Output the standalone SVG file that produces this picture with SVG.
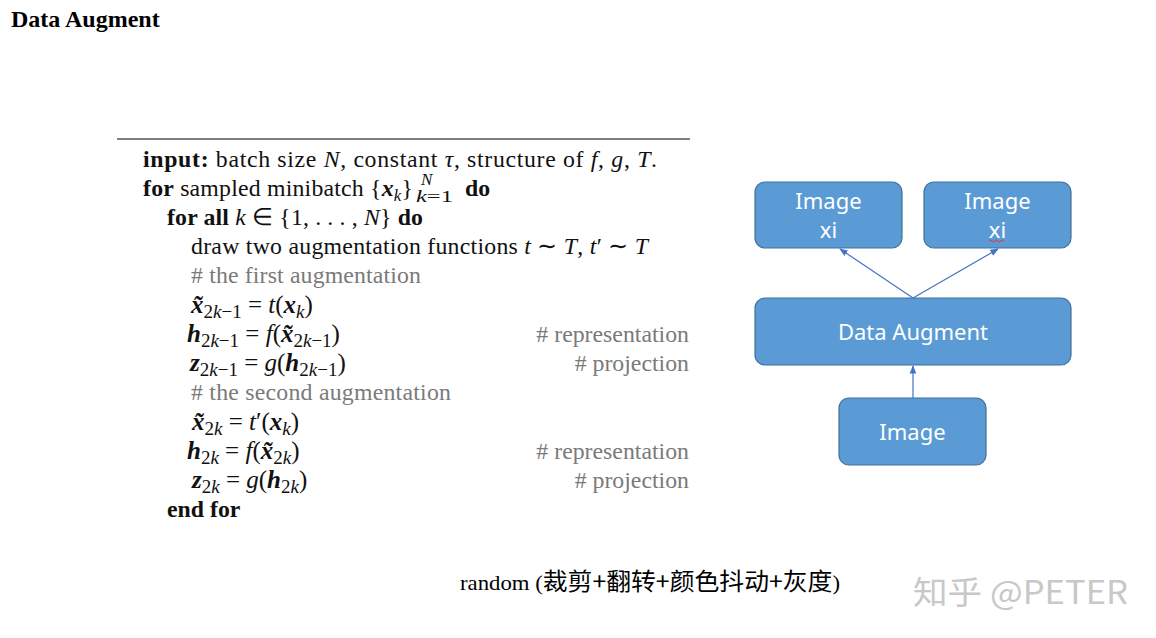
<svg xmlns="http://www.w3.org/2000/svg" width="1156" height="638" viewBox="0 0 1156 638">
<defs>
<style>
.alg{font-family:"Liberation Serif","Times New Roman",serif;font-size:23.8px;fill:#111}
.b{font-weight:bold}
.i{font-style:italic}
.bi{font-weight:bold;font-style:italic}
.s{font-size:17px}
.mt{font-size:25px}
.m{font-size:19px}
.c{fill:#7a7a7a}
.box{fill:#5b9bd5;stroke:#41719c;stroke-width:1.2}
.lbl{font-family:"Noto Sans","Noto Sans CJK SC",sans-serif;font-size:22px;fill:#fff;text-anchor:middle}
.con{stroke:#4472c4;stroke-width:1.2;fill:none}
</style>
<marker id="ah" viewBox="0 0 10 10" refX="9" refY="5" markerWidth="7" markerHeight="7" orient="auto">
<path d="M0,1 L10,5 L0,9 z" fill="#4472c4"/>
</marker>
</defs>
<rect width="1156" height="638" fill="#fff"/>
<text x="11" y="27" font-family="Liberation Serif, serif" font-size="24" font-weight="bold" fill="#000">Data Augment</text>

<g id="algorithm" class="alg">
<line x1="117" y1="139" x2="690" y2="139" stroke="#555" stroke-width="1.3"/>
<text x="143" y="167" textLength="514" lengthAdjust="spacing"><tspan class="b">input:</tspan> batch size <tspan class="i">N</tspan>, constant <tspan class="i">τ</tspan>, structure of <tspan class="i">f</tspan>, <tspan class="i">g</tspan>, <tspan class="i">T</tspan>.</text>
<text x="143" y="196" textLength="270" lengthAdjust="spacing"><tspan class="b">for</tspan> sampled minibatch {<tspan class="bi">x</tspan><tspan class="s i" dy="5">k</tspan><tspan dy="-5">}</tspan></text>
<text x="421" y="185" class="s i">N</text>
<text x="416" y="202" class="s" textLength="37" lengthAdjust="spacingAndGlyphs"><tspan class="i">k</tspan>=1</text>
<text x="465" y="196" class="b">do</text>
<text x="167" y="225" textLength="256" lengthAdjust="spacing"><tspan class="b">for all</tspan> <tspan class="i">k</tspan> ∈ {1, . . . , <tspan class="i">N</tspan>} <tspan class="b">do</tspan></text>
<text x="191" y="254" textLength="457" lengthAdjust="spacing">draw two augmentation functions <tspan class="i">t</tspan> ∼ <tspan class="i">T</tspan>, <tspan class="i">t</tspan>′ ∼ <tspan class="i">T</tspan></text>
<text x="191" y="283" class="c" textLength="230" lengthAdjust="spacing"># the first augmentation</text>
<text y="313" class="mt"><tspan x="191" class="bi">x̃</tspan><tspan dy="5" class="m">2<tspan class="i">k</tspan>−1</tspan><tspan dy="-5"> = </tspan><tspan class="i">t</tspan>(<tspan class="bi">x</tspan><tspan dy="5" class="m i">k</tspan><tspan dy="-5">)</tspan></text>
<text y="342" class="mt"><tspan x="187" class="bi">h</tspan><tspan dy="5" class="m">2<tspan class="i">k</tspan>−1</tspan><tspan dy="-5"> = </tspan><tspan class="i">f</tspan>(<tspan class="bi">x̃</tspan><tspan dy="5" class="m">2<tspan class="i">k</tspan>−1</tspan><tspan dy="-5">)</tspan></text>
<text x="689" y="342" class="c" text-anchor="end"># representation</text>
<text y="371" class="mt"><tspan x="190" class="bi">z</tspan><tspan dy="5" class="m">2<tspan class="i">k</tspan>−1</tspan><tspan dy="-5"> = </tspan><tspan class="i">g</tspan>(<tspan class="bi">h</tspan><tspan dy="5" class="m">2<tspan class="i">k</tspan>−1</tspan><tspan dy="-5">)</tspan></text>
<text x="689" y="371" class="c" text-anchor="end"># projection</text>
<text x="191" y="400" class="c" textLength="260" lengthAdjust="spacing"># the second augmentation</text>
<text y="430" class="mt"><tspan x="192" class="bi">x̃</tspan><tspan dy="5" class="m">2<tspan class="i">k</tspan></tspan><tspan dy="-5"> = </tspan><tspan class="i">t</tspan>′(<tspan class="bi">x</tspan><tspan dy="5" class="m i">k</tspan><tspan dy="-5">)</tspan></text>
<text y="459" class="mt"><tspan x="187" class="bi">h</tspan><tspan dy="5" class="m">2<tspan class="i">k</tspan></tspan><tspan dy="-5"> = </tspan><tspan class="i">f</tspan>(<tspan class="bi">x̃</tspan><tspan dy="5" class="m">2<tspan class="i">k</tspan></tspan><tspan dy="-5">)</tspan></text>
<text x="689" y="459" class="c" text-anchor="end"># representation</text>
<text y="488" class="mt"><tspan x="192" class="bi">z</tspan><tspan dy="5" class="m">2<tspan class="i">k</tspan></tspan><tspan dy="-5"> = </tspan><tspan class="i">g</tspan>(<tspan class="bi">h</tspan><tspan dy="5" class="m">2<tspan class="i">k</tspan></tspan><tspan dy="-5">)</tspan></text>
<text x="689" y="488" class="c" text-anchor="end"># projection</text>
<text x="167" y="517" class="b">end for</text>
</g>

<g id="connectors">
<line class="con" x1="913" y1="298" x2="840" y2="249" marker-end="url(#ah)"/>
<line class="con" x1="913" y1="298" x2="998" y2="249" marker-end="url(#ah)"/>
<line class="con" x1="913" y1="398" x2="913" y2="366" marker-end="url(#ah)"/>
</g>

<g id="node-image-xi-1">
<rect class="box" x="755" y="182" width="147" height="66" rx="10"/>
<text class="lbl" x="828.5" y="209">Image</text>
<text class="lbl" x="828.5" y="238">xi</text>
</g>
<g id="node-image-xi-2">
<rect class="box" x="924" y="182" width="147" height="66" rx="10"/>
<text class="lbl" x="997.5" y="209">Image</text>
<text class="lbl" x="997.5" y="238">xi</text>
<path d="M989,241 q1.5,-2 3,0 t3,0 t3,0 t3,0 t3,0" stroke="#e03030" stroke-width="1" fill="none"/>
</g>
<g id="node-data-augment">
<rect class="box" x="755" y="298" width="316" height="67" rx="10"/>
<text class="lbl" x="913" y="340">Data Augment</text>
</g>
<g id="node-image">
<rect class="box" x="839" y="398" width="147" height="67" rx="10"/>
<text class="lbl" x="912.5" y="440">Image</text>
</g>

<text x="460" y="590" font-family="Liberation Serif, 'Noto Sans CJK SC', serif" font-size="22" fill="#000" textLength="380" lengthAdjust="spacingAndGlyphs">random (<tspan font-family="Noto Sans CJK SC, sans-serif" font-size="24">裁剪+翻转+颜色抖动+灰度</tspan>)</text>
<text x="913" y="604" font-family="Noto Sans CJK SC, sans-serif" font-size="32" fill="#c8c8c8" textLength="215" lengthAdjust="spacingAndGlyphs">知乎 @PETER</text>
</svg>
